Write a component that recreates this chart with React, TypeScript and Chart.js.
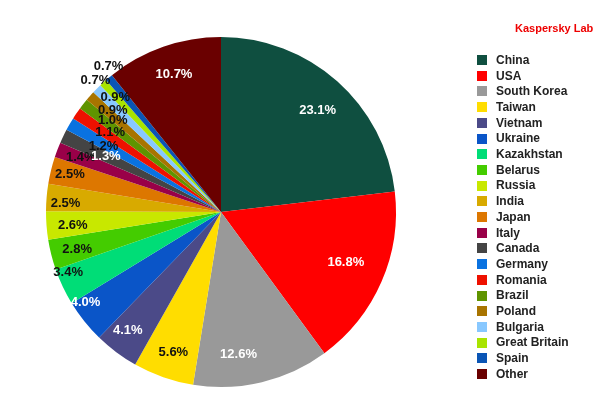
import React, { useEffect, useRef } from "react";
import { Chart, registerables } from "chart.js";

Chart.register(...registerables);

const countries = [
  "China", "USA", "South Korea", "Taiwan", "Vietnam", "Ukraine", "Kazakhstan",
  "Belarus", "Russia", "India", "Japan", "Italy", "Canada", "Germany", "Romania",
  "Brazil", "Poland", "Bulgaria", "Great Britain", "Spain", "Other",
];
const shares = [
  23.1, 16.8, 12.6, 5.6, 4.1, 4.0, 3.4, 2.8, 2.6, 2.5, 2.5, 1.4, 1.3, 1.2, 1.1,
  1.0, 0.9, 0.9, 0.7, 0.7, 10.7,
];
const sliceColors = [
  "#0f4f40", "#ff0000", "#999999", "#ffdd00", "#4b4a88", "#0a55c8", "#00dd77",
  "#44cc00", "#c8e800", "#d8aa00", "#dd7700", "#990048", "#444444", "#0a72e0",
  "#ee1100", "#5f9400", "#a87400", "#88c8ff", "#a8e400", "#0a55b5", "#6a0000",
];
const labelColors = [
  "#ffffff", "#ffffff", "#ffffff", "#111111", "#ffffff", "#ffffff", "#111111",
  "#111111", "#111111", "#111111", "#111111", "#111111", "#ffffff", "#111111",
  "#111111", "#111111", "#111111", "#111111", "#111111", "#111111", "#ffffff",
];
// label placement: radius as fraction of outer radius, and angle shift (deg)
const labelRadius = [
  0.80, 0.77, 0.82, 0.85, 0.86, 0.93, 0.94, 0.85, 0.85, 0.89, 0.89, 0.86, 0.73,
  0.77, 0.78, 0.81, 0.85, 0.89, 1.04, 1.05, 0.83,
];
const labelShift = [
  2, -1.4, 6.5, -0.6, 1.5, 5, 3.6, -0.6, -0.7, -1.5, 0.3, 0.5, 0, -0.9, 1.4,
  2.1, 1.8, 2.5, -1.3, 2.1, 0.4,
];
const brandText = "Kaspersky Lab";

const labelPlugin = {
  id: "pctLabels",
  afterDatasetsDraw(chart: any) {
    const ctx = chart.ctx;
    const meta = chart.getDatasetMeta(0);
    ctx.save();
    ctx.font = "bold 13px 'Liberation Sans', Arial, sans-serif";
    ctx.textAlign = "center";
    ctx.textBaseline = "middle";
    meta.data.forEach((arc: any, i: number) => {
      const p = arc.getProps(["startAngle", "endAngle", "x", "y", "outerRadius"], true);
      const mid = (p.startAngle + p.endAngle) / 2 + (labelShift[i] * Math.PI) / 180;
      const r = p.outerRadius * labelRadius[i];
      ctx.fillStyle = labelColors[i];
      ctx.fillText(shares[i].toFixed(1) + "%", p.x + r * Math.cos(mid), p.y + r * Math.sin(mid));
    });
    ctx.restore();
  },
};

const legendPlugin = {
  id: "sideLegend",
  afterDraw(chart: any) {
    const ctx = chart.ctx;
    ctx.save();
    ctx.font = "bold 11px 'Liberation Sans', Arial, sans-serif";
    ctx.fillStyle = "#ee0000";
    ctx.textAlign = "left";
    ctx.textBaseline = "middle";
    ctx.fillText(brandText, 515, 29);
    ctx.font = "bold 12px 'Liberation Sans', Arial, sans-serif";
    const labels = chart.data.labels as string[];
    labels.forEach((lab, i) => {
      const y = 60 + i * 15.7;
      ctx.fillStyle = sliceColors[i];
      ctx.fillRect(477, Math.round(y - 5), 10, 10);
      ctx.fillStyle = "#222222";
      ctx.fillText(lab, 496, y + 0.5);
    });
    ctx.restore();
  },
};

export default function App() {
  const ref = useRef<HTMLCanvasElement | null>(null);
  useEffect(() => {
    if (!ref.current) return;
    const chart = new Chart(ref.current, {
      type: "pie",
      data: {
        labels: countries,
        datasets: [
          {
            data: shares,
            backgroundColor: sliceColors,
            borderWidth: 0,
          },
        ],
      },
      options: {
        animation: false,
        responsive: false,
        devicePixelRatio: 1,
        layout: { padding: { left: 46, right: 217, top: 37, bottom: 10 } },
        plugins: {
          legend: { display: false },
          tooltip: { enabled: false },
          title: { display: false },
        },
      },
      plugins: [labelPlugin, legendPlugin],
    });
    return () => chart.destroy();
  }, []);
  return (
    <div style={{ position: "absolute", left: 0, top: 0, width: 613, height: 397, background: "#ffffff" }}>
      <canvas ref={ref} width={613} height={397} />
    </div>
  );
}
